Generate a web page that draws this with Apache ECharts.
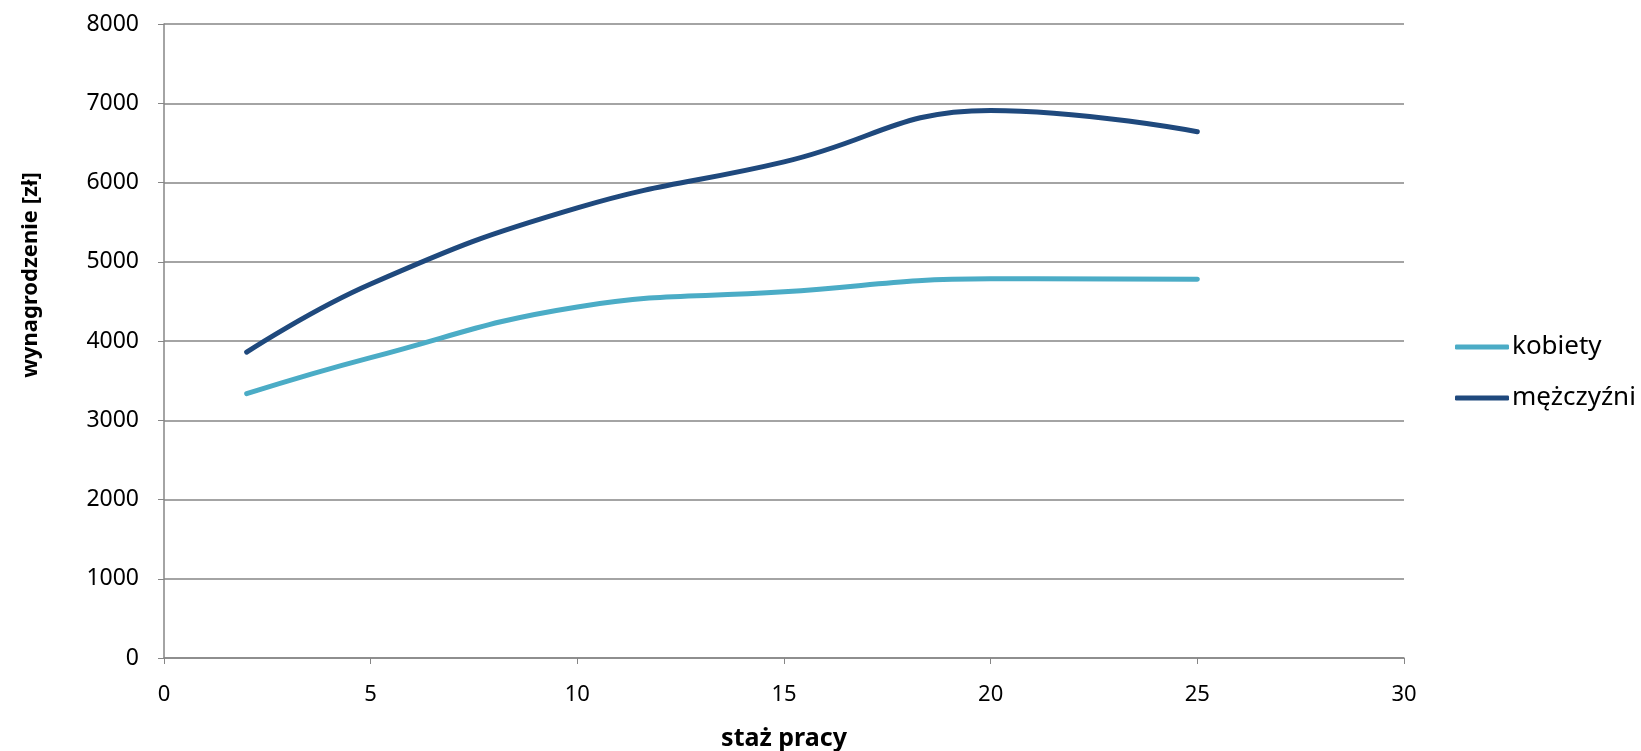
<!DOCTYPE html>
<html>
<head>
<meta charset="utf-8">
<script src="https://cdn.jsdelivr.net/npm/echarts@6/dist/echarts.min.js"></script>
<style>
html,body{margin:0;padding:0;background:#fff;}
#c{width:1641px;height:751px;}
</style>
</head>
<body>
<div id="c"></div>
<script>
const stazPracy = [2, 5, 10, 15, 20, 25];
const kobiety = [3335, 3790, 4430, 4620, 4785, 4780];
const mezczyzni = [3860, 4720, 5680, 6260, 6910, 6640];
const seriesNames = ['kobiety', 'mężczyźni'];
const xTitle = 'staż pracy';
const yTitle = 'wynagrodzenie [zł]';

const FONT = '"Noto Sans", "Open Sans", sans-serif';
const chart = echarts.init(document.getElementById('c'), null, {renderer: 'canvas'});
const pairs = (ys) => stazPracy.map((x, i) => [x, ys[i]]);

chart.setOption({
  animation: false,
  backgroundColor: '#ffffff',
  textStyle: {fontFamily: FONT},
  grid: {left: 164, right: 237, top: 24, bottom: 93, containLabel: false, outerBoundsMode: 'none'},
  legend: {
    orient: 'vertical',
    left: 1450,
    top: 329,
    itemWidth: 54,
    itemHeight: 5,
    itemGap: 25,
    icon: 'roundRect',
    textStyle: {fontFamily: FONT, fontSize: 26, color: '#000', padding: [0, 0, 0, -2]},
    data: seriesNames
  },
  xAxis: {
    type: 'value',
    min: 0, max: 30, interval: 5,
    name: xTitle,
    nameLocation: 'middle',
    nameGap: 68,
    nameTextStyle: {fontFamily: FONT, fontSize: 25, fontWeight: 'bold', color: '#000'},
    axisLine: {show: true, onZero: false, lineStyle: {color: '#868686', width: 1.5}},
    axisTick: {show: true, length: 6, lineStyle: {color: '#868686'}},
    axisLabel: {fontFamily: FONT, fontSize: 22, color: '#000', margin: 26},
    splitLine: {show: false}
  },
  yAxis: {
    type: 'value',
    min: 0, max: 8000, interval: 1000,
    name: yTitle,
    nameLocation: 'middle',
    nameGap: 122,
    nameRotate: 90,
    nameTextStyle: {fontFamily: FONT, fontSize: 22, fontWeight: 'bold', color: '#000', padding: [0, 0, 0, 132]},
    axisLine: {show: true, lineStyle: {color: '#868686', width: 1.5}},
    axisTick: {show: true, length: 6, lineStyle: {color: '#868686'}},
    axisLabel: {fontFamily: FONT, fontSize: 23, color: '#000', margin: 25, formatter: (v) => String(v)},
    splitLine: {show: true, lineStyle: {color: '#868686', width: 1.5}}
  },
  series: [
    {
      name: seriesNames[0], type: 'line', data: pairs(kobiety),
      smooth: 0.45, showSymbol: false, symbol: 'none',
      lineStyle: {color: '#4BACC6', width: 5, cap: 'round'},
      itemStyle: {color: '#4BACC6'}
    },
    {
      name: seriesNames[1], type: 'line', data: pairs(mezczyzni),
      smooth: 0.45, showSymbol: false, symbol: 'none',
      lineStyle: {color: '#1F497D', width: 5, cap: 'round'},
      itemStyle: {color: '#1F497D'}
    }
  ]
});
</script>
</body>
</html>
